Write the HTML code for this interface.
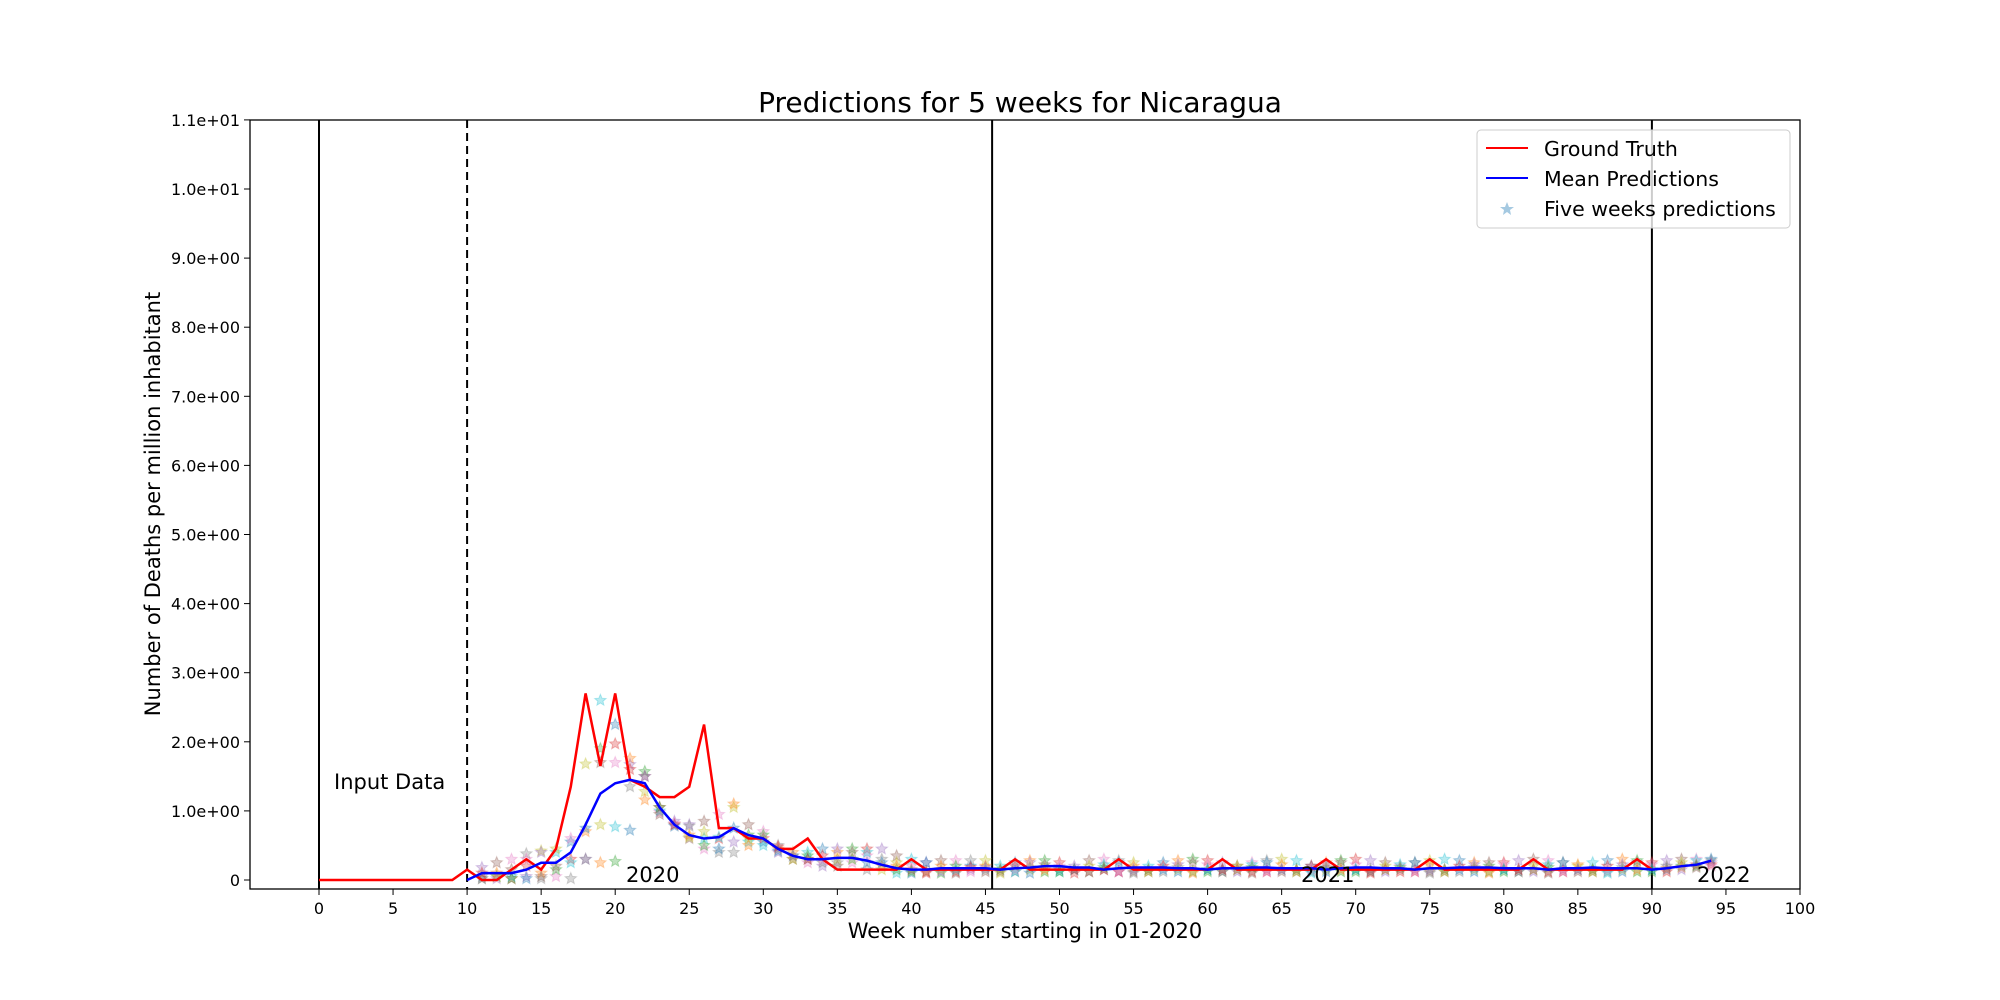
<!DOCTYPE html>
<html><head><meta charset="utf-8"><style>
body{margin:0;background:#fff}
svg{display:block;font-family:"DejaVu Sans","Liberation Sans",sans-serif}
</style></head><body>
<svg id="chart" width="2000" height="1000" viewBox="0 0 2000 1000">
<rect width="2000" height="1000" fill="#fff"/>
<text x="1020" y="112" font-size="28" text-anchor="middle">Predictions for 5 weeks for Nicaragua</text>
<g id="yticks"></g>
<g id="xticks"></g>
<g id="marks"></g>
<rect x="250" y="120" width="1550" height="769" fill="none" stroke="#000" stroke-width="1.3"/>
<text x="1025" y="938" font-size="21" text-anchor="middle">Week number starting in 01-2020</text>
<text transform="translate(160,504) rotate(-90)" font-size="21" text-anchor="middle">Number of Deaths per million inhabitant</text>
<text x="334" y="789" font-size="21">Input Data</text>
<text x="626" y="882" font-size="21">2020</text>
<text x="1301" y="882" font-size="21">2021</text>
<text x="1697" y="882" font-size="21">2022</text>
<g>
<rect x="1477" y="130" width="313" height="98" rx="4" fill="#fff" fill-opacity="0.8" stroke="#ccc"/>
<line x1="1486" y1="148" x2="1528" y2="148" stroke="red" stroke-width="2"/>
<text x="1544" y="156" font-size="20.5">Ground Truth</text>
<line x1="1486" y1="178" x2="1528" y2="178" stroke="blue" stroke-width="2"/>
<text x="1544" y="186" font-size="20.5">Mean Predictions</text>
<polygon points="1507,202 1509,207 1514,207 1510,210 1511,215 1507,212 1503,215 1504,210 1500,207 1505,207" fill="#1f77b4" fill-opacity="0.4"/>
<text x="1544" y="216" font-size="20.5">Five weeks predictions</text>
</g>
</svg>
<script>
const yTicks=[0,1,2,3,4,5,6,7,8,9,10,11];
const yTickLabels=["0","1.0e+00","2.0e+00","3.0e+00","4.0e+00","5.0e+00","6.0e+00","7.0e+00","8.0e+00","9.0e+00","1.0e+01","1.1e+01"];
const xTicks=[0,5,10,15,20,25,30,35,40,45,50,55,60,65,70,75,80,85,90,95,100];
const truthWeeks0=0;
const groundTruth=[0,0,0,0,0,0,0,0,0,0,0.15,0,0,0.15,0.3,0.15,0.45,1.35,2.7,1.65,2.7,1.45,1.35,1.2,1.2,1.35,2.25,0.75,0.75,0.6,0.6,0.45,0.45,0.6,0.3,0.15,0.15,0.15,0.15,0.15,0.3,0.15,0.15,0.15,0.15,0.15,0.15,0.3,0.15,0.15,0.15,0.15,0.15,0.15,0.3,0.15,0.15,0.15,0.15,0.15,0.15,0.3,0.15,0.15,0.15,0.15,0.15,0.15,0.3,0.15,0.15,0.15,0.15,0.15,0.15,0.3,0.15,0.15,0.15,0.15,0.15,0.15,0.3,0.15,0.15,0.15,0.15,0.15,0.15,0.3,0.15];
const meanStart=10;
const meanPred=[0,0.1,0.1,0.1,0.15,0.25,0.25,0.4,0.8,1.25,1.4,1.45,1.4,1.05,0.8,0.65,0.6,0.62,0.75,0.65,0.6,0.45,0.35,0.3,0.3,0.32,0.32,0.28,0.22,0.17,0.15,0.15,0.17,0.17,0.17,0.17,0.15,0.17,0.18,0.2,0.2,0.18,0.18,0.15,0.17,0.18,0.18,0.18,0.17,0.17,0.15,0.17,0.17,0.18,0.18,0.17,0.17,0.17,0.15,0.17,0.18,0.18,0.17,0.17,0.15,0.17,0.17,0.18,0.18,0.18,0.17,0.17,0.17,0.15,0.17,0.17,0.18,0.17,0.17,0.17,0.15,0.17,0.2,0.22,0.28];
const starStart=11;
const pred1=[0.02,0.05,0.02,0.05,0.05,0.05,0.02,1.68,2.6,2.25,1.76,1.57,1.05,0.85,0.6,0.45,0.4,1.05,0.55,0.55,0.45,0.35,0.3,0.2,0.2,0.25,0.15,0.15,0.1,0.1,0.12,0.1,0.12,0.15,0.12,0.15,0.12,0.15,0.12,0.15,0.15,0.12,0.15,0.12,0.12,0.15,0.12,0.15,0.12,0.15,0.12,0.15,0.12,0.15,0.12,0.15,0.12,0.15,0.12,0.15,0.12,0.15,0.12,0.15,0.12,0.15,0.12,0.15,0.12,0.15,0.12,0.15,0.12,0.15,0.12,0.15,0.12,0.15,0.12,0.15,0.17,0.2,0.22,0.25];
const pred2=[0.18,0.25,0.3,0.38,0.42,0.4,0.55,0.7,1.9,1.97,1.67,1.5,0.98,0.8,0.62,0.6,0.45,1.1,0.65,0.6,0.4,0.3,0.25,0.25,0.3,0.3,0.25,0.2,0.15,0.15,0.25,0.28,0.28,0.28,0.28,0.2,0.25,0.28,0.28,0.25,0.2,0.28,0.3,0.28,0.25,0.2,0.25,0.28,0.3,0.28,0.25,0.2,0.25,0.28,0.3,0.28,0.2,0.25,0.28,0.3,0.28,0.25,0.2,0.25,0.28,0.3,0.28,0.25,0.2,0.25,0.28,0.3,0.28,0.25,0.2,0.25,0.28,0.3,0.28,0.25,0.28,0.3,0.3,0.28];
const pred3=[0.05,0.05,0.05,0.02,0.1,0.15,0.3,0.3,1.7,1.7,1.35,1.28,1.0,0.78,0.65,0.5,0.6,0.55,0.8,0.7,0.5,0.3,0.4,0.45,0.4,0.45,0.45,0.45,0.35,0.2,0.12,0.15,0.15,0.2,0.2,0.15,0.2,0.25,0.22,0.2,0.15,0.2,0.22,0.25,0.2,0.15,0.2,0.22,0.25,0.22,0.15,0.2,0.22,0.25,0.22,0.15,0.2,0.22,0.25,0.22,0.15,0.2,0.22,0.25,0.22,0.15,0.2,0.22,0.25,0.22,0.15,0.2,0.22,0.25,0.22,0.15,0.2,0.22,0.25,0.22,0.2,0.25,0.28,0.3];
const pred4=[0.02,0.1,0.02,0.2,0.4,0.2,0.6,0.3,0.8,0.77,0.72,1.16,1.05,0.8,0.8,0.85,0.95,0.4,0.6,0.5,0.42,0.4,0.35,0.35,0.45,0.4,0.35,0.3,0.25,0.3,0.25,0.2,0.2,0.18,0.18,0.12,0.15,0.18,0.12,0.12,0.15,0.12,0.18,0.12,0.15,0.12,0.15,0.18,0.12,0.15,0.12,0.15,0.18,0.12,0.15,0.12,0.15,0.18,0.12,0.15,0.12,0.15,0.18,0.12,0.15,0.12,0.15,0.18,0.12,0.15,0.12,0.15,0.18,0.12,0.15,0.12,0.15,0.18,0.12,0.15,0.15,0.18,0.2,0.22];
const pred5=[0.1,0.02,0.15,0.3,0.02,0.45,0.25,0.75,0.25,0.27,1.6,1.5,0.95,0.82,0.78,0.7,0.62,0.75,0.5,0.65,0.48,0.35,0.3,0.3,0.25,0.3,0.4,0.25,0.2,0.12,0.1,0.12,0.1,0.12,0.15,0.1,0.12,0.1,0.15,0.12,0.1,0.12,0.15,0.12,0.1,0.12,0.15,0.12,0.1,0.12,0.15,0.12,0.1,0.12,0.15,0.12,0.1,0.12,0.15,0.12,0.1,0.12,0.15,0.12,0.1,0.12,0.15,0.12,0.1,0.12,0.15,0.12,0.1,0.12,0.15,0.12,0.1,0.12,0.15,0.12,0.12,0.15,0.18,0.2];
const vLines=[0,45.45,90];
const dashedLine=10;
const palette=["#1f77b4","#ff7f0e","#2ca02c","#d62728","#9467bd","#8c564b","#e377c2","#7f7f7f","#bcbd22","#17becf"];

const NS="http://www.w3.org/2000/svg";
const X=v=>319+v*14.81;
const Y=v=>880-v*69.1;
const mk=(t,a,p)=>{const e=document.createElementNS(NS,t);for(const k in a)e.setAttribute(k,a[k]);p.appendChild(e);return e;};
const yg=document.getElementById('yticks'),xg=document.getElementById('xticks'),mg=document.getElementById('marks');
yTicks.forEach((v,i)=>{
  const l=mk('line',{x1:244,x2:250,y1:Y(v),y2:Y(v),stroke:'#000'},yg);
  
  
  const t=mk('text',{x:240,y:Y(v)+6,'font-size':16,'text-anchor':'end'},yg);
  t.textContent=yTickLabels[i];
  
  
});
xTicks.forEach(v=>{
  const l=mk('line',{x1:X(v),x2:X(v),y1:889,y2:895,stroke:'#000'},xg);
  
  
  const t=mk('text',{x:X(v),y:914,'font-size':16,'text-anchor':'middle'},xg);
  t.textContent=v;
  
  
});
vLines.forEach(v=>{
  const l=mk('line',{x1:X(v),x2:X(v),y1:120,y2:889,stroke:'#000','stroke-width':2},mg);
  
  
});
const dl=mk('line',{x1:X(dashedLine),x2:X(dashedLine),y1:120,y2:889,stroke:'#000','stroke-width':2,'stroke-dasharray':'8,5'},mg);


function star(cx,cy,r,color){
  let pts=[];
  for(let i=0;i<10;i++){const a=-Math.PI/2+i*Math.PI/5;const rr=i%2?r*0.45:r;pts.push((cx+rr*Math.cos(a)).toFixed(1)+','+(cy+rr*Math.sin(a)).toFixed(1));}
  const p=mk('polygon',{points:pts.join(' '),fill:color,'fill-opacity':0.3,stroke:color,'stroke-opacity':0.3,'stroke-width':1},mg);
  
  
}
[pred1,pred2,pred3,pred4,pred5].forEach((arr,h)=>{
  arr.forEach((v,i)=>{const w=starStart+i;star(X(w),Y(v),6,palette[(w+h*3)%10]);});
});
const gt=mk('polyline',{points:groundTruth.map((v,i)=>X(truthWeeks0+i)+','+Y(v)).join(' '),fill:'none',stroke:'red','stroke-width':2.5},mg);


const mp=mk('polyline',{points:meanPred.map((v,i)=>X(meanStart+i)+','+Y(v)).join(' '),fill:'none',stroke:'blue','stroke-width':2.5},mg);


</script>
</body></html>
